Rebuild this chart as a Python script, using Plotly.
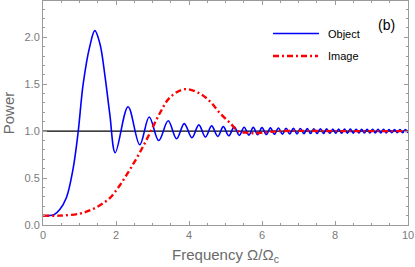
import plotly.graph_objects as go

# ---- data ----
obj_x = [0.0, 0.15, 0.30, 0.46, 0.64, 0.82, 0.96, 1.10, 1.28, 1.42, 1.56, 1.70, 1.83, 1.98,
         2.33, 2.65, 2.91, 3.17, 3.43, 3.66, 3.87, 4.08, 4.27, 4.45, 4.62, 4.79, 4.94, 5.09,
         5.24, 5.38, 5.51, 5.64, 5.76, 5.88, 6.00, 6.12, 6.23, 6.34, 6.45, 6.56, 6.66, 6.76,
         6.86, 6.96, 7.05, 7.15, 7.24, 7.33, 7.42, 7.51, 7.60, 7.69, 7.77, 7.86, 7.94, 8.02,
         8.10, 8.18, 8.26, 8.34, 8.42, 8.50, 8.58, 8.655, 8.73, 8.805, 8.88, 8.955, 9.03, 9.105,
         9.18, 9.255, 9.33, 9.405, 9.48, 9.555, 9.63, 9.705, 9.78, 9.855, 9.93, 10.0]
obj_y = [0.10, 0.10, 0.11, 0.165, 0.29, 0.59, 0.98, 1.50, 1.90, 2.07, 1.93, 1.58, 1.18, 0.77,
         1.26, 0.855, 1.15, 0.90, 1.11, 0.918, 1.08, 0.930, 1.067, 0.937, 1.056, 0.944, 1.048, 0.950,
         1.045, 0.955, 1.042, 0.958, 1.040, 0.961, 1.037, 0.964, 1.035, 0.966, 1.033, 0.968, 1.031, 0.970,
         1.029, 0.971, 1.028, 0.973, 1.027, 0.974, 1.026, 0.975, 1.025, 0.976, 1.024, 0.977, 1.023, 0.977,
         1.022, 0.978, 1.022, 0.979, 1.021, 0.979, 1.020, 0.980, 1.020, 0.980, 1.020, 0.980, 1.019, 0.981,
         1.019, 0.981, 1.019, 0.981, 1.018, 0.982, 1.018, 0.982, 1.018, 0.982, 1.018, 0.982]

img_x = [0.0, 0.46, 1.00, 1.28, 1.56, 1.83, 2.10, 2.38, 2.65, 2.93, 3.20, 3.48, 3.89, 4.30,
         4.58, 4.85, 5.13, 5.35, 5.60, 5.85, 6.10, 6.40, 7.00, 8.00, 10.0]
img_y = [0.10, 0.10, 0.12, 0.155, 0.21, 0.287, 0.42, 0.59, 0.77, 0.98, 1.19, 1.36, 1.447, 1.40,
         1.315, 1.19, 1.085, 1.00, 0.982, 0.978, 0.988, 0.998, 1.003, 1.0, 1.0]

ref_level = 1.0
x_ticks = [0, 2, 4, 6, 8, 10]
y_ticks = [0.0, 0.5, 1.0, 1.5, 2.0]
series_names = ["Object", "Image"]
panel_label = "(b)"

FONT = "Liberation Sans, Arial, sans-serif"
GRAY = "#7a7a7a"
FRAME = "#9a9a9a"

fig = go.Figure()
fig.add_trace(go.Scatter(x=[0, 10], y=[ref_level, ref_level], mode="lines",
                         line=dict(color="black", width=1.2), showlegend=False, hoverinfo="skip"))
fig.add_trace(go.Scatter(x=obj_x, y=obj_y, mode="lines", name=series_names[0],
                         line=dict(color="#0000ff", width=1.6, shape="spline", smoothing=1.0),
                         showlegend=False))
fig.add_trace(go.Scatter(x=img_x, y=img_y, mode="lines", name=series_names[1],
                         line=dict(color="#ff0000", width=2.4, shape="spline", smoothing=1.0,
                                   dash="6px,3px,2px,3px"),
                         showlegend=False))

# legend drawn manually in paper coordinates (Mathematica style)
W, H = 415, 267
L, R, T, B = 43, 7, 1, 42
pw, ph = W - L - R, H - T - B
def px(x):
    return (x - L) / pw
def py(y):
    return (H - B - y) / ph

shapes = [
    dict(type="line", xref="paper", yref="paper", x0=px(273), x1=px(319), y0=py(33.5), y1=py(33.5),
         line=dict(color="#0000ff", width=1.6)),
    dict(type="line", xref="paper", yref="paper", x0=px(273), x1=px(318), y0=py(56), y1=py(56),
         line=dict(color="#ff0000", width=2.4, dash="6px,3px,2px,3px")),
]
annotations = [
    dict(xref="paper", yref="paper", x=px(326), y=py(33.5), text=series_names[0], showarrow=False,
         xanchor="left", yanchor="middle", font=dict(family=FONT, size=11, color="black")),
    dict(xref="paper", yref="paper", x=px(326), y=py(56), text=series_names[1], showarrow=False,
         xanchor="left", yanchor="middle", font=dict(family=FONT, size=11, color="black")),
    dict(xref="paper", yref="paper", x=px(386), y=py(24.5), text=panel_label, showarrow=False,
         xanchor="center", yanchor="middle", font=dict(family=FONT, size=14, color="black")),
]

axis_common = dict(showgrid=False, zeroline=False, showline=True, linecolor=FRAME, linewidth=1,
                   mirror="ticks", ticks="inside", ticklen=4, tickcolor=FRAME, tickwidth=1,
                   automargin=False,
                   tickfont=dict(family=FONT, size=11, color=GRAY))

fig.update_layout(
    width=W, height=H,
    margin=dict(l=L, r=R, t=T, b=B, autoexpand=False),
    paper_bgcolor="white", plot_bgcolor="white",
    shapes=shapes, annotations=annotations,
    xaxis=dict(range=[0, 10], tickvals=x_ticks, ticktext=[str(v) for v in x_ticks],
               minor=dict(dtick=0.5, ticklen=2, tickcolor=FRAME, ticks="inside"),
               title=dict(text="Frequency Ω/Ω<sub>c</sub>", standoff=9,
                          font=dict(family=FONT, size=15, color="#6a6a6a")),
               **axis_common),
    yaxis=dict(range=[0, 2.386], tickvals=y_ticks, ticktext=[f"{v:.1f}" for v in y_ticks],
               minor=dict(dtick=0.1, ticklen=2, tickcolor=FRAME, ticks="inside"),
               title=dict(text="Power", standoff=6,
                          font=dict(family=FONT, size=15, color="#6a6a6a")),
               **axis_common),
)

fig.write_html("out.html", config={"displayModeBar": False},
               post_script="document.body.style.margin='0px';")
